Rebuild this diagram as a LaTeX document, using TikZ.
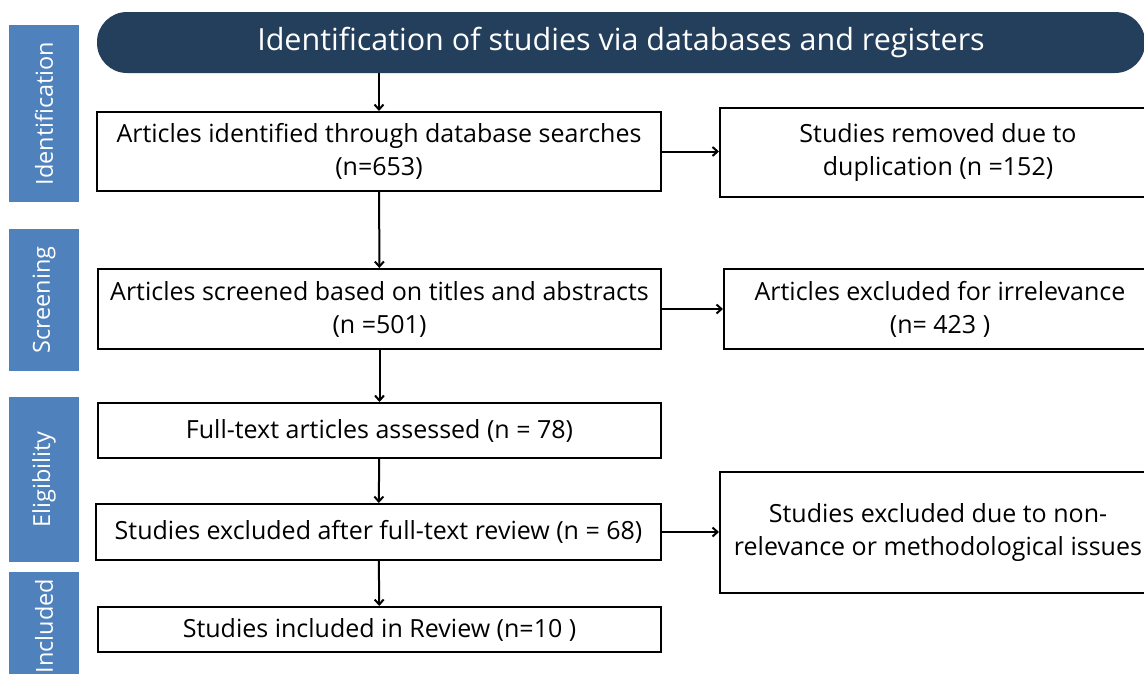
\documentclass[tikz,border=0pt]{standalone}
\usepackage{fontspec}
\setmainfont{Open Sans}
\usetikzlibrary{arrows.meta}
\definecolor{banner}{HTML}{243F5C}
\definecolor{stage}{HTML}{4F81BD}

\begin{document}
\begin{tikzpicture}[x=1pt, y=-1pt,
	box/.style={draw=black, line width=2pt, align=center, inner sep=0pt,
	font=\fontsize{25}{33}\selectfont},
	stagebar/.style={fill=stage, text=white, inner sep=0pt, minimum width=70pt,
	font=\fontsize{23.5}{26}\selectfont},
	link/.style={line width=2pt, -{Straight Barb[length=5pt,width=9pt,line width=2pt]}}]
\useasboundingbox (0,0) rectangle (1144,673);
\fill[white] (0,0) rectangle (1144,673);
% stages on the left
\node[stagebar, minimum height=177pt] (sIdent) at (44,113.5) {\rotatebox{90}{Identification}};
\node[stagebar, minimum height=142pt] (sScreen) at (44,300) {\rotatebox{90}{Screening}};
\node[stagebar, minimum height=165pt] (sElig) at (44,479.5) {\rotatebox{90}{Eligibility}};
\node[stagebar, minimum height=108pt] (sIncl) at (44,626) {\rotatebox{90}{Included}};
% header
\node[fill=banner, rounded corners=30pt, text=white, minimum width=1048pt, minimum height=61pt,
	inner sep=0pt, font=\fontsize{30.5}{33}\selectfont] (head) at (621,42.5)
	{Identification of studies via databases and registers};
% main column
\node[box, minimum width=564pt, minimum height=79pt] (ident) at (379,151.5)
	{Articles identified through database searches\\(n=653)};
\node[box, minimum width=563pt, minimum height=80pt] (screen) at (379.5,309)
	{Articles screened based on titles and abstracts\\(n =501)};
\node[box, minimum width=563pt, minimum height=55pt] (full) at (379.5,430.5)
	{Full-text articles assessed (n = 78)};
\node[box, minimum width=565pt, minimum height=56pt] (fexcl) at (378.5,532)
	{Studies excluded after full-text review (n = 68)};
\node[box, minimum width=563pt, minimum height=45pt] (incl) at (379.5,629.5)
	{Studies included in Review (n=10 )};
% right column
\node[box, minimum width=436pt, minimum height=89pt] (dup) at (938,152.5)
	{Studies removed due to\\duplication (n =152)};
\node[box, minimum width=432pt, minimum height=80pt] (irrel) at (940,309)
	{Articles excluded for irrelevance\\(n= 423 )};
\node[box, minimum width=436pt, minimum height=121pt] (nonrel) at (938,532.5)
	{Studies excluded due to non-\\relevance or methodological issues};
% arrows
\draw[link] (ident.north |- head.south) -- (ident.north);
\draw[link] (ident) -- (screen);
\draw[link] (screen) -- (full);
\draw[link] (full) -- (fexcl);
\draw[link] (fexcl) -- (incl);
\draw[link] (ident.east) -- (ident.east -| dup.west);
\draw[link] (screen.east) -- (screen.east -| irrel.west);
\draw[link] (fexcl.east) -- (fexcl.east -| nonrel.west);
\end{tikzpicture}
\end{document}
